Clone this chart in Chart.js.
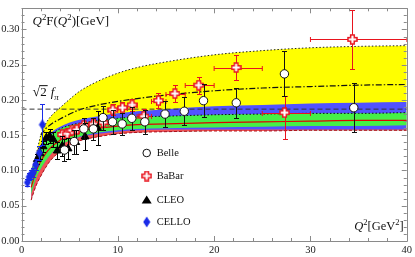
<!DOCTYPE html>
<html>
<head>
<meta charset="utf-8">
<script src="https://cdn.jsdelivr.net/npm/chart.js@4.4.1/dist/chart.umd.min.js"></script>
<style>
  html, body { margin: 0; padding: 0; background: #fff; }
  #wrap { width: 415px; height: 257px; }
</style>
</head>
<body>
<div id="wrap"><canvas id="tff"></canvas></div>
<script>
// ---- theory bands at these Q^2 values ----
const bandQ2     = [1, 1.5, 2, 2.5, 3, 4, 5, 6, 8, 10, 12, 15, 20, 25, 30, 35, 40];
const yellowTop  = [0.099, 0.121, 0.150, 0.166, 0.176, 0.189, 0.201, 0.212, 0.227, 0.238, 0.246, 0.254, 0.264, 0.270, 0.274, 0.276, 0.277];
const dashDot    = [null, null, 0.150, 0.159, 0.165, 0.173, 0.180, 0.186, 0.193, 0.198, 0.202, 0.207, 0.213, 0.217, 0.219, 0.221, 0.222];
const blueTop    = [0.099, 0.121, 0.137, 0.146, 0.153, 0.162, 0.168, 0.172, 0.177, 0.181, 0.184, 0.187, 0.191, 0.193, 0.195, 0.196, 0.197];
const greenTop   = [0.097, 0.118, 0.134, 0.143, 0.150, 0.159, 0.164, 0.167, 0.171, 0.174, 0.176, 0.177, 0.179, 0.180, 0.181, 0.181, 0.182];
const redLine    = [0.076, 0.098, 0.113, 0.124, 0.132, 0.143, 0.151, 0.156, 0.160, 0.163, 0.165, 0.166, 0.168, 0.169, 0.170, 0.171, 0.171];
const greenBot   = [0.066, 0.088, 0.102, 0.113, 0.122, 0.135, 0.142, 0.148, 0.154, 0.157, 0.159, 0.160, 0.161, 0.162, 0.163, 0.163, 0.164];
const redTop     = [0.066, 0.088, 0.102, 0.113, 0.122, 0.135, 0.142, 0.147, 0.152, 0.155, 0.157, 0.158, 0.158, 0.158, 0.158, 0.158, 0.158];
const redBot     = [0.058, 0.078, 0.092, 0.104, 0.114, 0.127, 0.136, 0.142, 0.148, 0.152, 0.154, 0.155, 0.156, 0.156, 0.157, 0.157, 0.157];
const sqrt2Fpi   = 0.187;

// ---- experimental data ----
const belleQ2  = [4.46, 5.47, 6.47, 7.46, 8.46, 9.45, 10.45, 11.45, 12.8, 14.9, 16.9, 18.9, 22.3, 27.3, 34.5];
const belleF   = [0.129, 0.141, 0.159, 0.159, 0.175, 0.169, 0.166, 0.174, 0.169, 0.180, 0.184, 0.199, 0.196, 0.237, 0.189];
const belleErr = [0.016, 0.017, 0.015, 0.016, 0.017, 0.017, 0.015, 0.016, 0.017, 0.018, 0.020, 0.023, 0.021, 0.032, 0.035];

const babarQ2    = [4.24, 4.74, 5.24, 5.74, 6.47, 7.47, 8.48, 9.48, 10.48, 11.48, 12.71, 14.22, 15.93, 18.40, 22.28, 27.31, 34.36];
const babarQ2Lo  = [4.0, 4.5, 5.0, 5.5, 6.0, 7.0, 8.0, 9.0, 10.0, 11.0, 12.0, 13.5, 15.0, 17.0, 20.0, 25.0, 30.0];
const babarQ2Hi  = [4.5, 5.0, 5.5, 6.0, 7.0, 8.0, 9.0, 10.0, 11.0, 12.0, 13.5, 15.0, 17.0, 20.0, 25.0, 30.0, 40.0];
const babarF     = [0.151, 0.152, 0.157, 0.158, 0.164, 0.166, 0.168, 0.186, 0.189, 0.193, 0.177, 0.199, 0.209, 0.221, 0.246, 0.182, 0.286];
const babarErrLo = [0.005, 0.005, 0.005, 0.005, 0.005, 0.006, 0.007, 0.008, 0.008, 0.009, 0.010, 0.011, 0.012, 0.012, 0.018, 0.038, 0.042];
const babarErrHi = [0.005, 0.005, 0.005, 0.005, 0.005, 0.006, 0.007, 0.008, 0.008, 0.009, 0.010, 0.011, 0.012, 0.012, 0.018, 0.024, 0.042];

const cleoQ2  = [1.64, 1.94, 2.24, 2.56, 2.91, 3.30, 3.72, 4.23, 4.84, 5.64, 6.60, 7.90];
const cleoF   = [0.116, 0.124, 0.134, 0.146, 0.149, 0.144, 0.128, 0.135, 0.131, 0.140, 0.148, 0.160];
const cleoErr = [0.007, 0.008, 0.008, 0.009, 0.010, 0.011, 0.012, 0.014, 0.015, 0.017, 0.019, 0.024];

const celloQ2  = [0.62, 0.81, 1.00, 1.22, 1.47, 1.86, 2.17];
const celloF   = [0.083, 0.091, 0.094, 0.097, 0.108, 0.125, 0.165];
const celloErr = [0.005, 0.005, 0.006, 0.006, 0.008, 0.010, 0.029];

const legendNames = ["Belle", "BaBar", "CLEO", "CELLO"];

const SERIF = '"Liberation Serif", "DejaVu Serif", serif';

function pts(xs, ys) {
  return xs.map((x, i) => ({ x: x, y: ys[i] }));
}

function makeMarker(w, h, draw) {
  const c = document.createElement("canvas");
  c.width = w;
  c.height = h;
  draw(c.getContext("2d"), w, h);
  return c;
}

const plusImg = makeMarker(11, 11, (g) => {
  const cx = 5.5, cy = 5.5, r = 4.5, a = 1.8;
  g.beginPath();
  g.moveTo(cx - a, cy - r); g.lineTo(cx + a, cy - r); g.lineTo(cx + a, cy - a);
  g.lineTo(cx + r, cy - a); g.lineTo(cx + r, cy + a); g.lineTo(cx + a, cy + a);
  g.lineTo(cx + a, cy + r); g.lineTo(cx - a, cy + r); g.lineTo(cx - a, cy + a);
  g.lineTo(cx - r, cy + a); g.lineTo(cx - r, cy - a); g.lineTo(cx - a, cy - a);
  g.closePath();
  g.fillStyle = "#ffffff";
  g.fill();
  g.strokeStyle = "#e8141e";
  g.lineWidth = 1.5;
  g.stroke();
});

const diamondImg = makeMarker(8, 12, (g) => {
  g.beginPath();
  g.moveTo(4, 0.5); g.lineTo(7.5, 6); g.lineTo(4, 11.5); g.lineTo(0.5, 6);
  g.closePath();
  g.fillStyle = "#1a2be8";
  g.fill();
});

// error bars drawn just before the markers of each data set
const errorBars = {
  id: "errorBars",
  beforeDatasetDraw(chart, args) {
    const ds = chart.data.datasets[args.index];
    if (!ds.errLo) return;
    const { ctx, chartArea: a, scales: { x, y } } = chart;
    ctx.save();
    ctx.beginPath();
    ctx.rect(a.left, a.top, a.right - a.left, a.bottom - a.top);
    ctx.clip();
    ctx.strokeStyle = ds.errColor;
    ctx.lineWidth = 1;
    ds.data.forEach((p, i) => {
      const px = Math.round(x.getPixelForValue(p.x)) + 0.5;
      const py = y.getPixelForValue(p.y);
      const t = Math.round(y.getPixelForValue(p.y + ds.errHi[i])) + 0.5;
      const b = Math.round(y.getPixelForValue(p.y - ds.errLo[i])) + 0.5;
      ctx.beginPath();
      ctx.moveTo(px, t); ctx.lineTo(px, b);
      ctx.moveTo(px - 2.5, t); ctx.lineTo(px + 2.5, t);
      ctx.moveTo(px - 2.5, b); ctx.lineTo(px + 2.5, b);
      if (ds.xLo) {
        const l = x.getPixelForValue(ds.xLo[i]);
        const r = x.getPixelForValue(ds.xHi[i]);
        const yy = Math.round(py) + 0.5;
        ctx.moveTo(l, yy); ctx.lineTo(r, yy);
        ctx.moveTo(l, yy - 2.5); ctx.lineTo(l, yy + 2.5);
        ctx.moveTo(r, yy - 2.5); ctx.lineTo(r, yy + 2.5);
      }
      ctx.stroke();
    });
    ctx.restore();
  },
};

// Mathematica-like frame with inward ticks on all sides
const frame = {
  id: "frame",
  afterDraw(chart) {
    const { ctx, chartArea: a, scales: { x, y } } = chart;
    ctx.save();
    ctx.strokeStyle = "#8a8a8a";
    ctx.lineWidth = 1;
    ctx.beginPath();
    ctx.rect(Math.round(a.left) + 0.5, Math.round(a.top) + 0.5,
      Math.round(a.right - a.left), Math.round(a.bottom - a.top));
    for (let v = 0; v <= 40; v += 2) {
      const px = Math.round(x.getPixelForValue(v)) + 0.5;
      const len = v % 10 === 0 ? 5 : 3;
      ctx.moveTo(px, a.bottom); ctx.lineTo(px, a.bottom - len);
      ctx.moveTo(px, a.top); ctx.lineTo(px, a.top + len);
    }
    for (let k = 0; k <= 33; k++) {
      const py = Math.round(y.getPixelForValue(k / 100)) + 0.5;
      const len = k % 5 === 0 ? 5 : 3;
      ctx.moveTo(a.left, py); ctx.lineTo(a.left + len, py);
      ctx.moveTo(a.right, py); ctx.lineTo(a.right - len, py);
    }
    ctx.stroke();
    ctx.restore();
  },
};

function richText(ctx, x, y, parts, size, measureOnly) {
  let cx = x;
  for (const p of parts) {
    const s = p.sup || p.sub ? size * 0.68 : size;
    ctx.font = (p.it ? "italic " : "") + s + "px " + SERIF;
    const dy = p.sup ? -size * 0.42 : p.sub ? size * 0.28 : 0;
    if (!measureOnly) ctx.fillText(p.t, cx, y + dy);
    cx += ctx.measureText(p.t).width;
  }
  return cx - x;
}

const labels = {
  id: "labels",
  afterDraw(chart) {
    const { ctx, chartArea: a, scales: { x, y } } = chart;
    ctx.save();
    ctx.fillStyle = "#111";
    ctx.textBaseline = "alphabetic";
    ctx.textAlign = "left";

    richText(ctx, a.left + 11, a.top + 17, [
      { t: "Q", it: 1 }, { t: "2", sup: 1 }, { t: "F(" },
      { t: "Q", it: 1 }, { t: "2", sup: 1 }, { t: ")[GeV]" },
    ], 13);

    const xl = [{ t: "Q", it: 1 }, { t: "2", sup: 1 }, { t: "[GeV" }, { t: "2", sup: 1 }, { t: "]" }];
    const w = richText(ctx, 0, 0, xl, 12.5, true);
    richText(ctx, a.right - 3 - w, a.bottom - 11, xl, 12.5);

    // sqrt(2) f_pi label above the dashed line
    const ly = y.getPixelForValue(sqrt2Fpi) - 13;
    const lx = a.left + 11;
    ctx.font = "14px " + SERIF;
    ctx.fillText("\u221A", lx, ly);
    const rw = ctx.measureText("\u221A").width;
    ctx.font = "13px " + SERIF;
    ctx.fillText("2", lx + rw, ly);
    const tw = ctx.measureText("2").width;
    ctx.fillRect(lx + rw - 0.5, ly - 11, tw + 1.5, 1);
    richText(ctx, lx + rw + tw + 4, ly, [{ t: "f", it: 1 }, { t: "\u03C0", it: 1, sub: 1 }], 13);

    // legend inside the plot
    const lgX = x.getPixelForValue(13.0);
    const rows = [153, 176, 200, 222];
    ctx.font = "10.5px " + SERIF;
    ctx.textBaseline = "middle";
    rows.forEach((ry, i) => {
      ctx.fillStyle = "#111";
      ctx.fillText(legendNames[i], lgX + 10, ry + 0.5);
      if (i === 0) {
        ctx.beginPath();
        ctx.arc(lgX, ry, 3.8, 0, Math.PI * 2);
        ctx.fillStyle = "#fff";
        ctx.fill();
        ctx.strokeStyle = "#111";
        ctx.lineWidth = 1;
        ctx.stroke();
      } else if (i === 1) {
        ctx.drawImage(plusImg, lgX - 5.5, ry - 5.5);
      } else if (i === 2) {
        ctx.beginPath();
        ctx.moveTo(lgX, ry - 4.5);
        ctx.lineTo(lgX + 5, ry + 3.5);
        ctx.lineTo(lgX - 5, ry + 3.5);
        ctx.closePath();
        ctx.fillStyle = "#000";
        ctx.fill();
      } else {
        ctx.drawImage(diamondImg, lgX - 4, ry - 6);
      }
    });
    ctx.restore();
  },
};

function band(data, opts) {
  return Object.assign({
    data: data,
    pointRadius: 0,
    borderWidth: 0,
    cubicInterpolationMode: "monotone",
    fill: false,
  }, opts);
}

const datasets = [
  // 0: lower edge of the red band (dashed), also the floor for the fills
  band(pts(bandQ2, redBot), { borderColor: "#b0101a", borderWidth: 1, borderDash: [3, 2], order: 2 }),
  // 1: yellow band with dotted upper edge
  band(pts(bandQ2, yellowTop), { borderColor: "#222", borderWidth: 1, borderDash: [1.5, 2], backgroundColor: "#ffff00", fill: 0, order: 20 }),
  // 2: blue band
  band(pts(bandQ2, blueTop), { backgroundColor: "#5252ff", fill: 0, order: 19 }),
  // 3: lower edge of green band (invisible)
  band(pts(bandQ2, greenBot), { order: 30 }),
  // 4: green band with dotted upper edge
  band(pts(bandQ2, greenTop), { borderColor: "#111", borderWidth: 1, borderDash: [1.5, 2], backgroundColor: "#46f046", fill: 3, order: 18 }),
  // 5: red band
  band(pts(bandQ2, redTop), { backgroundColor: "#f25454", fill: 0, order: 17 }),
  // 6: solid red curve
  band(pts(bandQ2, redLine), { borderColor: "#e00000", borderWidth: 1.2, order: 5 }),
  // 7: sqrt(2) f_pi
  band([{ x: 0, y: sqrt2Fpi }, { x: 40, y: sqrt2Fpi }], { borderColor: "#333", borderWidth: 1, borderDash: [5, 3], order: 5 }),
  // 8: dash-dotted curve
  band(pts(bandQ2, dashDot), { borderColor: "#111", borderWidth: 1.2, borderDash: [6, 2, 1.5, 2], order: 5 }),
  {
    label: "CELLO",
    data: pts(celloQ2, celloF),
    showLine: false,
    pointStyle: diamondImg,
    errLo: celloErr, errHi: celloErr, errColor: "#1a2be8",
    order: 1,
  },
  {
    label: "CLEO",
    data: pts(cleoQ2, cleoF),
    showLine: false,
    pointStyle: "triangle",
    pointRadius: 4.5,
    pointBackgroundColor: "#000",
    pointBorderColor: "#000",
    errLo: cleoErr, errHi: cleoErr, errColor: "#000",
    order: 1,
  },
  {
    label: "BaBar",
    data: pts(babarQ2, babarF),
    showLine: false,
    pointStyle: plusImg,
    errLo: babarErrLo, errHi: babarErrHi, xLo: babarQ2Lo, xHi: babarQ2Hi, errColor: "#e8141e",
    order: 1,
  },
  {
    label: "Belle",
    data: pts(belleQ2, belleF),
    showLine: false,
    pointStyle: "circle",
    pointRadius: 4.2,
    pointBackgroundColor: "#fff",
    pointBorderColor: "#111",
    pointBorderWidth: 1,
    errLo: belleErr, errHi: belleErr, errColor: "#111",
    order: 0,
  },
];

new Chart(document.getElementById("tff"), {
  type: "line",
  data: { datasets: datasets },
  plugins: [errorBars, frame, labels],
  options: {
    responsive: true,
    maintainAspectRatio: false,
    animation: false,
    devicePixelRatio: 1,
    layout: { padding: { top: 1, right: 8, left: 0, bottom: 0 } },
    plugins: {
      legend: { display: false },
      tooltip: { enabled: false },
    },
    scales: {
      x: {
        type: "linear",
        min: 0,
        max: 40,
        grid: { display: false, drawTicks: false },
        border: { display: false },
        ticks: { stepSize: 10, color: "#222", font: { family: SERIF, size: 10.5 }, padding: 3, maxRotation: 0 },
        afterFit: (s) => { s.height = 16; },
      },
      y: {
        min: 0,
        max: 0.33,
        grid: { display: false, drawTicks: false },
        border: { display: false },
        afterBuildTicks: (s) => {
          s.ticks = s.ticks.filter((t) => Math.abs(t.value * 20 - Math.round(t.value * 20)) < 1e-6);
        },
        ticks: {
          stepSize: 0.05,
          color: "#222",
          font: { family: SERIF, size: 10.5 },
          padding: 2,
          callback: (v) => Number(v).toFixed(2),
        },
        afterFit: (s) => { s.width = 21.5; },
      },
    },
  },
});
</script>
</body>
</html>
